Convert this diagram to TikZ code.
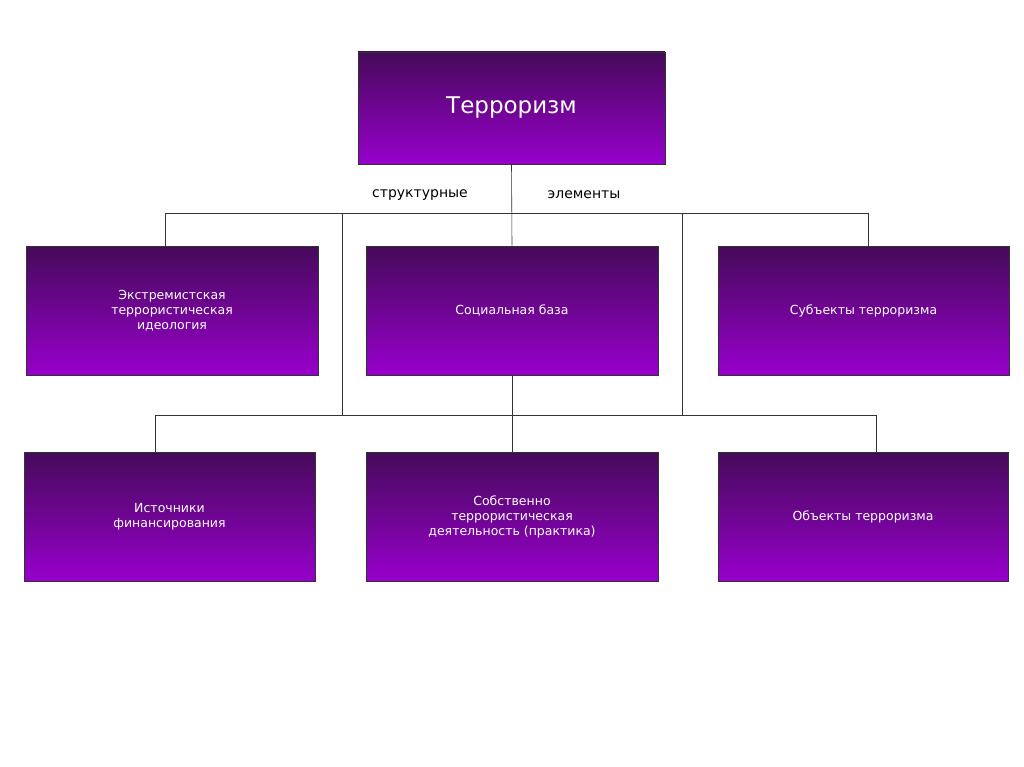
\documentclass[tikz,border=0pt]{standalone}
\usepackage{fontspec}
\setmainfont{DejaVu Sans}
\begin{document}
\begin{tikzpicture}[x=1pt,y=-1pt,
  pbox/.style={draw=black!80,line width=0.6pt,top color=violet!60!black,bottom color={rgb,255:red,152;green,0;blue,204},text=white,align=center,inner sep=0pt,font=\fontsize{12.5}{15}\selectfont},
  ln/.style={line width=0.6pt,black!80}]
\useasboundingbox[fill=white] (0,0) rectangle (1024,767);
\definecolor{dk}{RGB}{70,10,90}
\tikzset{pbox/.append style={top color=dk}}
\node[pbox,minimum width=307pt,minimum height=112pt,font=\fontsize{23}{27}\selectfont] (top) at (511.5,108) {Терроризм};
\node[font=\fontsize{14}{17}\selectfont] (s1) at (420,195) {структурные};
\node[font=\fontsize{14}{17}\selectfont] (s2) at (584,195) {элементы};
\node[pbox,minimum width=292pt,minimum height=129pt] (a) at (172,310.5) {Экстремистская\\террористическая\\идеология};
\node[pbox,minimum width=292pt,minimum height=129pt] (b) at (512,310.5) {Социальная база};
\node[pbox,minimum width=291pt,minimum height=129pt] (c) at (863.5,310.5) {Субъекты терроризма};
\node[pbox,minimum width=291pt,minimum height=129pt] (d) at (169.5,516.5) {Источники\\финансирования};
\node[pbox,minimum width=292pt,minimum height=129pt] (e) at (512,516.5) {Собственно\\террористическая\\деятельность (практика)};
\node[pbox,minimum width=290pt,minimum height=129pt] (f) at (863,516.5) {Объекты терроризма};
\coordinate (h1) at (165,213); \coordinate (h2) at (868,213);
\coordinate (h3) at (155,415); \coordinate (h4) at (876,415);
\coordinate (v1) at (342,213); \coordinate (v2) at (682,213);
\draw[ln] (top.south) -- (b.north);
\draw[ln] (h1) -- (h2);
\draw[ln] (h1) -- (a.north -| h1);
\draw[ln] (h2) -- (c.north -| h2);
\draw[ln] (v1) -- (v1 |- h3);
\draw[ln] (v2) -- (v2 |- h3);
\draw[ln] (h3) -- (h4);
\draw[ln] (h3) -- (d.north -| h3);
\draw[ln] (h4) -- (f.north -| h4);
\draw[ln] (b.south) -- (e.north);
\end{tikzpicture}
\end{document}
